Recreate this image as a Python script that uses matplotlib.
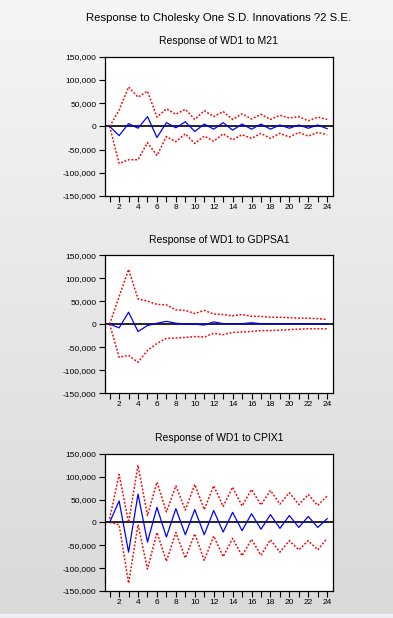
import numpy as np
import matplotlib
matplotlib.use("Agg")
import matplotlib.pyplot as plt
from matplotlib.ticker import FuncFormatter

plt.rcParams["font.family"] = ["Liberation Sans", "DejaVu Sans"]

periods = list(range(1, 25))

# Response of WD1 to M21
m21_resp = [0, -20000, 6000, -4000, 21000, -24000, 8000, -3000, 10000, -11000, 5000, -6000,
            8000, -8000, 5000, -6000, 5000, -6000, 3000, -4000, 3000, -4000, 3000, -5000]
m21_upper = [0, 35000, 85000, 63000, 76000, 20000, 38000, 26000, 37000, 15000, 34000, 21000,
             32000, 15000, 27000, 16000, 26000, 15000, 24000, 18000, 21000, 12000, 20000, 15000]
m21_lower = [0, -80000, -72000, -72000, -35000, -63000, -22000, -33000, -16000, -37000, -21000, -32000,
             -16000, -29000, -18000, -26000, -15000, -26000, -15000, -23000, -13000, -21000, -13000, -18000]

# Response of WD1 to GDPSA1
gdp_resp = [0, -8000, 26000, -16000, -3000, 2000, 6000, 2000, 0, 0, -2000, 5000,
            1000, 1000, 1000, 3000, 1000, 1000, 1000, 1000, 1000, 1000, 1000, 0]
gdp_upper = [0, 60000, 119000, 55000, 50000, 43000, 42000, 31000, 30000, 23000, 30000, 22000,
             21000, 18000, 21000, 17000, 17000, 15000, 15000, 14000, 13000, 13000, 12000, 10000]
gdp_lower = [0, -72000, -68000, -83000, -57000, -42000, -31000, -30000, -29000, -27000, -28000, -20000,
             -23000, -18000, -17000, -16000, -14000, -14000, -13000, -12000, -11000, -10000, -10000, -10000]

# Response of WD1 to CPIX1
cpi_resp = [0, 47000, -65000, 62000, -43000, 33000, -32000, 30000, -27000, 28000, -27000, 26000,
            -21000, 22000, -18000, 19000, -15000, 17000, -13000, 15000, -11000, 13000, -11000, 8000]
cpi_upper = [8000, 105000, 0, 125000, 15000, 88000, 23000, 80000, 27000, 83000, 28000, 80000,
             35000, 77000, 36000, 72000, 38000, 70000, 40000, 65000, 39000, 61000, 37000, 58000]
cpi_lower = [0, -5000, -133000, -5000, -102000, -22000, -85000, -22000, -78000, -25000, -83000, -30000,
             -75000, -35000, -73000, -37000, -72000, -38000, -65000, -40000, -60000, -40000, -60000, -35000]

titles = ["Response of WD1 to M21", "Response of WD1 to GDPSA1", "Response of WD1 to CPIX1"]
series = [(m21_resp, m21_upper, m21_lower),
          (gdp_resp, gdp_upper, gdp_lower),
          (cpi_resp, cpi_upper, cpi_lower)]

fig = plt.figure(figsize=(3.93, 6.18), dpi=100)

# light gray gradient background
bg = fig.add_axes([0, 0, 1, 1], zorder=-10)
grad = np.linspace(0, 1, 256).reshape(-1, 1)
bg.imshow(grad, aspect="auto", cmap=matplotlib.colors.LinearSegmentedColormap.from_list(
    "bg", ["#f5f5f5", "#d9d9d9"]), extent=[0, 1, 0, 1], origin="upper")
bg.axhspan(0, 4 / 618, color="#eceef4")
bg.set_xlim(0, 1)
bg.set_ylim(0, 1)
bg.axis("off")

positions = [[0.267, 0.683, 0.580, 0.225],
             [0.267, 0.364, 0.580, 0.223],
             [0.267, 0.0437, 0.580, 0.222]]

fmt = FuncFormatter(lambda v, p: f"{int(v):,}")

for pos, title, (resp, up, lo) in zip(positions, titles, series):
    ax = fig.add_axes(pos)
    ax.set_facecolor("white")
    ax.axhline(0, color="black", lw=1.2, zorder=1)
    ax.plot(periods, up, color="red", lw=1.1, ls=(0, (1.2, 1.2)), zorder=2)
    ax.plot(periods, lo, color="red", lw=1.1, ls=(0, (1.2, 1.2)), zorder=2)
    ax.plot(periods, resp, color="blue", lw=0.9, zorder=3)
    ax.set_xlim(0.5, 24.6)
    ax.set_ylim(-150000, 150000)
    ax.set_yticks(np.arange(-150000, 150001, 50000))
    ax.yaxis.set_major_formatter(fmt)
    ax.set_xticks(periods)
    ax.set_xticklabels([str(p) if p % 2 == 0 else "" for p in periods])
    ax.tick_params(axis="both", direction="out", length=4, width=0.8, labelsize=6, pad=2)
    for s in ax.spines.values():
        s.set_linewidth(0.9)
    ax.set_title(title, fontsize=7.5, pad=9)

fig.text(0.557, 0.971, "Response to Cholesky One S.D. Innovations ?2 S.E.",
         ha="center", va="center", fontsize=8.2)

fig.savefig("out.png", dpi=100)
